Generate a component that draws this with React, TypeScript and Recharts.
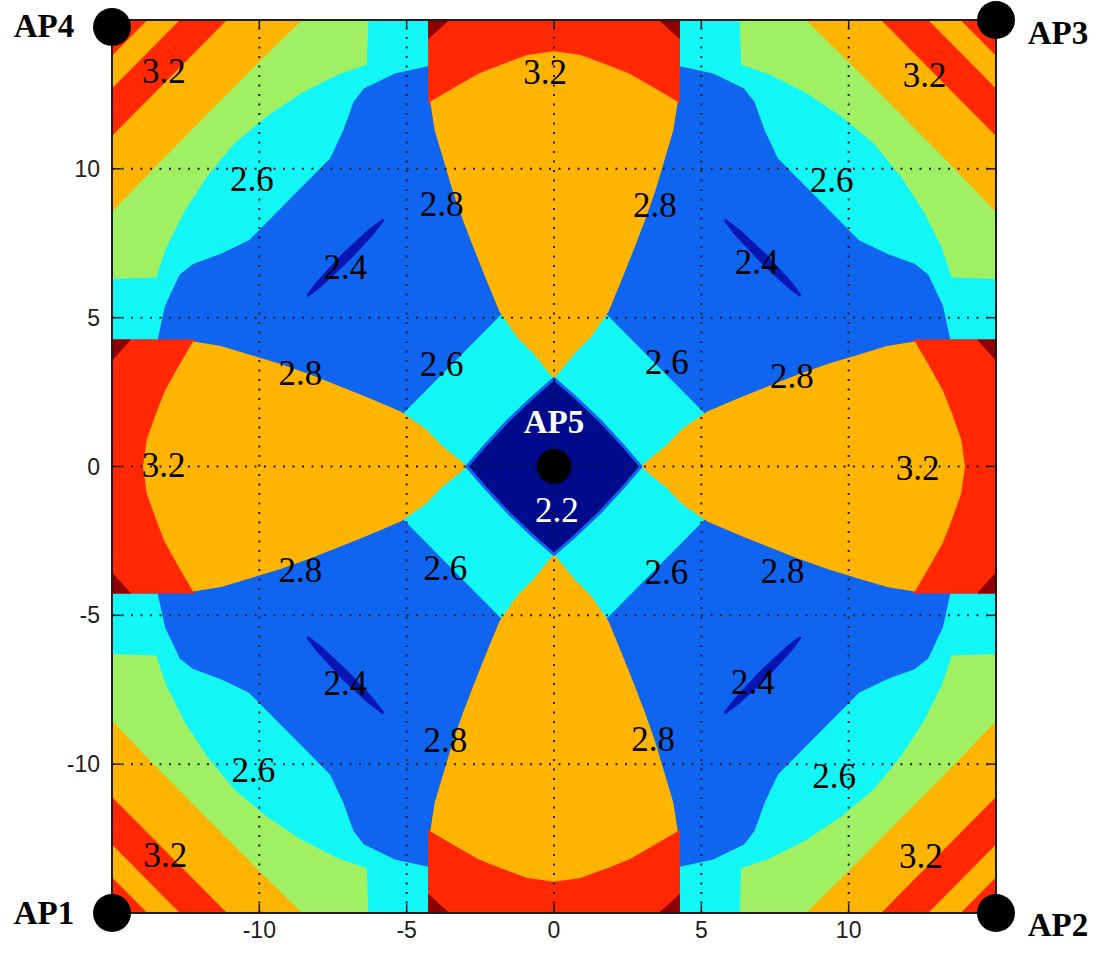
import { ScatterChart, Scatter, XAxis, YAxis } from 'recharts'

type Pair = [number, number]

// axes
const LIM = 15
const ticks = [-10, -5, 0, 5, 10]

// contour bands around the upper-left corner (AP4).
// the other three corners are mirror images of it
const cornerCyan: Pair[] = [
  [-15, 15], [-4.27, 15], [-4.27, 13.45], [-5.4, 13.2], [-6.45, 12.7], [-6.8, 12.25],
  [-7.15, 11.3], [-7.6, 10.35], [-8.55, 9.4], [-9.4, 8.55], [-10.35, 7.6], [-11.3, 7.15],
  [-12.25, 6.8], [-12.7, 6.45], [-13.2, 5.4], [-13.45, 4.27], [-15, 4.27],
]
const cornerGreen: Pair[] = [
  [-15, 15], [-6.3, 15], [-6.35, 13.5], [-7.32, 13.17], [-8.56, 12.55], [-9.74, 11.77],
  [-10.85, 10.85], [-11.77, 9.74], [-12.55, 8.56], [-13.17, 7.32], [-13.5, 6.35], [-15, 6.3],
]
const cornerOrange: Pair[] = [[-15, 15], [-8.55, 15], [-10.2, 13.4], [-11.8, 11.8], [-13.4, 10.2], [-15, 8.55]]
const cornerRed: Pair[] = [[-15, 15], [-11.1, 15], [-15, 11.1]]
const cornerOrange2: Pair[] = [[-15, 15], [-12.7, 15], [-15, 12.7]]
const cornerRed2: Pair[] = [[-15, 15], [-13.8, 15], [-15, 13.8]]

// the lobe between AP4 and AP3: left half, from the top centre round to the tip
const lobeHalf: Pair[] = [
  [0, 13.95], [-0.9, 13.82], [-1.8, 13.5], [-2.55, 13.2], [-3.35, 12.75], [-4.2, 12.25],
  [-4.05, 11.3], [-3.75, 10.3], [-3.45, 9.3], [-3.1, 8.3], [-2.75, 7.4], [-2.35, 6.4],
  [-1.85, 5.2], [-1.26, 4.35], [-0.7, 3.8], [-0.25, 3.24], [0, 2.95],
]
const sideRed: Pair[] = [[-4.27, 15], [4.27, 15], [4.27, 12.2], [-4.27, 12.2]]
const sideDark: Pair[] = [[-4.27, 15], [-3.55, 15], [-4.27, 14.35]]

// centre: cyan squares, the 2.2 diamond around AP5, the 2.4 islands
const innerCyan: Pair[] = [
  [-1.8, 5.1], [1.8, 5.1], [5.1, 1.8], [5.1, -1.8], [1.8, -5.1], [-1.8, -5.1], [-5.1, -1.8], [-5.1, 1.8],
]
const diamondQuarter: Pair[] = [[0, 2.95], [-0.7, 2.35], [-1.55, 1.55], [-2.35, 0.7], [-2.95, 0]]
const island: Pair[] = [
  [-8.34, 5.76], [-8.01, 6.19], [-7.17, 7.1], [-6.25, 7.94], [-5.82, 8.26], [-6.15, 7.84], [-7.0, 6.93], [-7.91, 6.09],
]

// contour labels [x, y, text]
const levelLabels: [number, number, string][] = [
  [-13.24, 13.3, '3.2'], [-0.3, 13.25, '3.2'], [12.58, 13.14, '3.2'],
  [-10.25, 9.67, '2.6'], [-3.81, 8.83, '2.8'], [3.42, 8.78, '2.8'], [9.42, 9.61, '2.6'],
  [-7.08, 6.7, '2.4'], [6.88, 6.86, '2.4'],
  [-3.81, 3.46, '2.6'], [3.83, 3.51, '2.6'], [-8.61, 3.13, '2.8'], [8.07, 3.04, '2.8'],
  [-13.25, 0.05, '3.2'], [12.34, -0.05, '3.2'],
  [-8.61, -3.47, '2.8'], [-3.69, -3.41, '2.6'], [3.81, -3.56, '2.6'], [7.76, -3.5, '2.8'],
  [-7.08, -7.27, '2.4'], [6.75, -7.25, '2.4'],
  [-3.69, -9.18, '2.8'], [3.36, -9.15, '2.8'],
  [-10.2, -10.18, '2.6'], [9.51, -10.39, '2.6'],
  [-13.19, -13.04, '3.2'], [12.45, -13.07, '3.2'],
]
const innerLabels: [number, number, string][] = [[0.1, -1.47, '2.2']]

// access points
const apNames = ['AP1', 'AP2', 'AP3', 'AP4', 'AP5']
const apX = [-15, 15, 15, -15, 0]
const apY = [-15, -15, 15, 15, 0]

const COL = {
  darkRed: '#8e0000',
  red: '#ff2800',
  orange: '#ffb400',
  green: '#a0f064',
  cyan: '#12f6f6',
  blue: '#0f64f0',
  deep: '#0a16b2',
  navy: '#000b8c',
}
// pixel offsets of the AP names from their dots
const apText: Record<string, { dx: number; dy: number }> = {
  AP1: { dx: -68, dy: 11 }, AP2: { dx: 62, dy: 23 }, AP3: { dx: 62, dy: 24 },
  AP4: { dx: -68, dy: 17 }, AP5: { dx: 0, dy: -34 },
}

const serif = '"Liberation Serif", "Times New Roman", serif'
const sans = '"Liberation Sans Narrow", "Liberation Sans", Arial, sans-serif'

const pts = (a: Pair[]) => a.map(([x, y]) => ({ x, y }))
const flip = (a: Pair[], sx: number, sy: number): Pair[] => a.map(([x, y]) => [sx * x, sy * y])
const quadrants: Pair[] = [[1, 1], [-1, 1], [1, -1], [-1, -1]]
const sides: ((p: Pair) => Pair)[] = [
  ([x, y]) => [x, y],
  ([x, y]) => [x, -y],
  ([x, y]) => [-y, x],
  ([x, y]) => [y, x],
]

const lobe: Pair[] = [...lobeHalf, ...flip(lobeHalf, -1, 1).reverse()]
const diamond: Pair[] = [
  ...diamondQuarter,
  ...flip(diamondQuarter, 1, -1).reverse(),
  ...flip(diamondQuarter, -1, -1),
  ...flip(diamondQuarter, -1, 1).reverse(),
]
const frame: Pair[] = [[-LIM, -LIM], [LIM, -LIM], [LIM, LIM], [-LIM, LIM]]

interface Shape { key: string; pts: Pair[]; fill: string; stroke?: string; sw?: number; dash?: string; open?: boolean }

const shapes: Shape[] = []
shapes.push({ key: 'bg', pts: frame, fill: COL.blue })
quadrants.forEach(([sx, sy], i) => {
  const c: [Pair[], string][] = [
    [cornerCyan, COL.cyan], [cornerGreen, COL.green], [cornerOrange, COL.orange],
    [cornerRed, COL.red], [cornerOrange2, COL.orange], [cornerRed2, COL.red],
  ]
  c.forEach(([a, fill], j) => shapes.push({ key: `c${i}-${j}`, pts: flip(a, -sx, sy), fill }))
})
shapes.push({ key: 'inner', pts: innerCyan, fill: COL.cyan })
sides.forEach((t, i) => {
  shapes.push({ key: `sr${i}`, pts: sideRed.map(t), fill: COL.red })
  shapes.push({ key: `lb${i}`, pts: lobe.map(t), fill: COL.orange })
  shapes.push({ key: `dk${i}a`, pts: sideDark.map(t), fill: COL.darkRed })
  shapes.push({ key: `dk${i}b`, pts: flip(sideDark, -1, 1).map(t), fill: COL.darkRed })
})
shapes.push({ key: 'dia', pts: diamond, fill: COL.navy, stroke: COL.blue, sw: 3 })
quadrants.forEach(([sx, sy], i) =>
  shapes.push({ key: `is${i}`, pts: flip(island, -sx, sy), fill: COL.deep, stroke: COL.deep, sw: 3 }))
ticks.forEach((t) => {
  shapes.push({ key: `gv${t}`, pts: [[t, -LIM], [t, LIM]], fill: 'none', stroke: '#1c1c1c', sw: 2, dash: '2 7.5', open: true })
  shapes.push({ key: `gh${t}`, pts: [[-LIM, t], [LIM, t]], fill: 'none', stroke: '#1c1c1c', sw: 2, dash: '2 7.5', open: true })
  shapes.push({ key: `tb${t}`, pts: [[t, -LIM], [t, -LIM + 0.3]], fill: 'none', stroke: '#1c1c1c', sw: 1.5, open: true })
  shapes.push({ key: `tt${t}`, pts: [[t, LIM], [t, LIM - 0.3]], fill: 'none', stroke: '#1c1c1c', sw: 1.5, open: true })
  shapes.push({ key: `tl${t}`, pts: [[-LIM, t], [-LIM + 0.3, t]], fill: 'none', stroke: '#1c1c1c', sw: 1.5, open: true })
  shapes.push({ key: `tr${t}`, pts: [[LIM, t], [LIM - 0.3, t]], fill: 'none', stroke: '#1c1c1c', sw: 1.5, open: true })
})
shapes.push({ key: 'frame', pts: frame, fill: 'none', stroke: '#1c1c1c', sw: 2 })

const Nothing = () => <g />

const drawPoly = (s: Shape) => (p: any) => {
  const d = (p.points || []).map((q: any) => `${q.x},${q.y}`).join(' ')
  const common = {
    points: d,
    stroke: s.stroke ?? 'none',
    strokeWidth: s.sw ?? 0,
    strokeDasharray: s.dash,
    strokeLinejoin: 'round' as const,
  }
  return s.open ? <polyline {...common} fill="none" /> : <polygon {...common} fill={s.fill} />
}

const LevelText = (p: any) => (
  <text x={p.cx} y={p.cy + 12} textAnchor="middle" fontFamily={serif} fontSize={35}
    fill={p.payload.white ? '#ffffff' : '#000000'}>
    {p.payload.text}
  </text>
)

const ApMark = (p: any) => {
  const o = apText[p.payload.name]
  const centre = p.payload.name === 'AP5'
  return (
    <g>
      <circle cx={p.cx} cy={p.cy + (p.payload.name === 'AP4' ? 7 : 0)} r={centre ? 17.5 : 19} fill="#000" />
      <text x={p.cx + o.dx} y={p.cy + o.dy} textAnchor="middle" fontFamily={serif} fontWeight="bold"
        fontSize={33} fill={centre ? '#ffffff' : '#000000'}>
        {p.payload.name}
      </text>
    </g>
  )
}

// axis tick text, drawn so that size and font are under our control
const AxisTick = ({ x, y, payload, textAnchor, orient }: any) => (
  <text x={x} y={orient === 'bottom' ? y + 17 : y + 8} textAnchor={textAnchor}
    fontFamily={sans} fontSize={23} fill="#202020">
    {payload.value}
  </text>
)

const labelData = [
  ...levelLabels.map(([x, y, text]) => ({ x, y, text, white: false })),
  ...innerLabels.map(([x, y, text]) => ({ x, y, text, white: true })),
]
const apData = apNames.map((name, i) => ({ x: apX[i], y: apY[i], name }))

export default function App() {
  return (
    <div style={{ position: 'absolute', left: 0, top: 0, width: 1102, height: 953, background: '#fff' }}>
      <ScatterChart width={1102} height={953} margin={{ top: 20, right: 106, bottom: 10, left: 52 }}>
        <XAxis
          type="number" dataKey="x" domain={[-LIM, LIM]} ticks={ticks} interval={0}
          axisLine={false} tickLine={false} tickMargin={2} height={30}
          tick={<AxisTick orient="bottom" />}
        />
        <YAxis
          type="number" dataKey="y" domain={[-LIM, LIM]} ticks={ticks} interval={0}
          axisLine={false} tickLine={false} tickMargin={6} width={60}
          tick={<AxisTick orient="left" />}
        />
        {shapes.map((s) => (
          <Scatter key={s.key} data={pts(s.pts)} isAnimationActive={false}
            shape={Nothing} line={drawPoly(s)} legendType="none" />
        ))}
        <Scatter data={labelData} isAnimationActive={false} shape={LevelText} legendType="none" />
        <Scatter data={apData} isAnimationActive={false} shape={ApMark} legendType="none" />
      </ScatterChart>
    </div>
  )
}
